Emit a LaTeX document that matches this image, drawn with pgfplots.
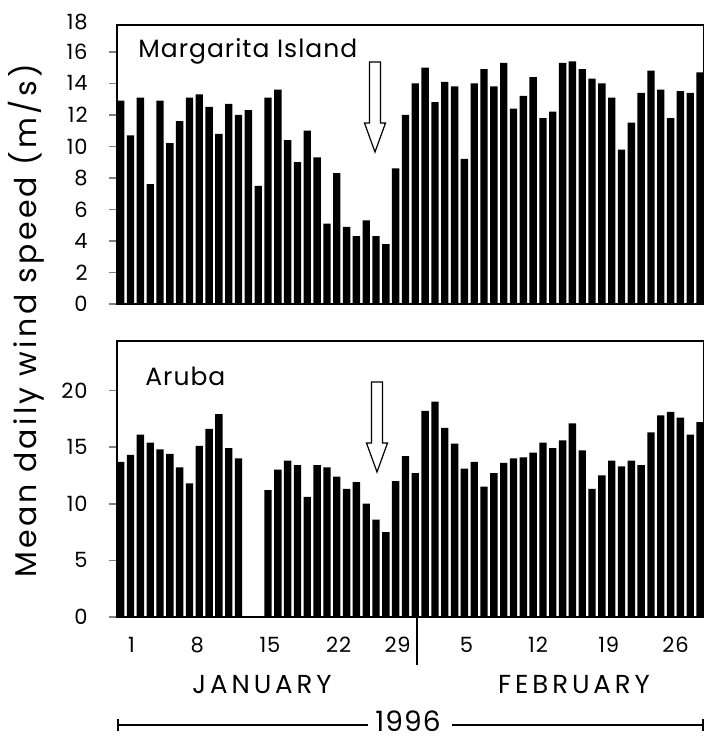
\documentclass[border=0pt]{standalone}
\usepackage{fontspec}
\setmainfont{Poppins}
\newfontfamily\spaced[LetterSpace=15]{Poppins}
\newfontfamily\ylab[LetterSpace=11]{Poppins}
\newfontfamily\slight[LetterSpace=4]{Poppins}
\usepackage{pgfplots}
\pgfplotsset{compat=1.18}
\usepackage{pgfplotstable}

\pgfplotstableread{
day ms
1 12.9
2 10.7
3 13.1
4 7.6
5 12.9
6 10.2
7 11.6
8 13.1
9 13.3
10 12.5
11 10.8
12 12.7
13 12.0
14 12.3
15 7.5
16 13.1
17 13.6
18 10.4
19 9.0
20 11.0
21 9.3
22 5.1
23 8.3
24 4.9
25 4.3
26 5.3
27 4.3
28 3.8
29 8.6
30 12.0
31 14.0
32 15.0
33 12.8
34 14.1
35 13.8
36 9.2
37 14.0
38 14.9
39 13.8
40 15.3
41 12.4
42 13.2
43 14.4
44 11.8
45 12.2
46 15.3
47 15.4
48 14.9
49 14.3
50 14.0
51 13.1
52 9.8
53 11.5
54 13.4
55 14.8
56 13.6
57 11.8
58 13.5
59 13.4
60 14.7
}\margarita

\pgfplotstableread{
day ms
1 13.7
2 14.3
3 16.1
4 15.4
5 14.8
6 14.4
7 13.2
8 11.8
9 15.1
10 16.6
11 17.9
12 14.9
13 14.0
16 11.2
17 13.0
18 13.8
19 13.4
20 10.6
21 13.4
22 13.2
23 12.4
24 11.3
25 11.9
26 10.0
27 8.6
28 7.5
29 12.0
30 14.2
31 12.7
32 18.2
33 19.0
34 16.7
35 15.3
36 13.1
37 13.7
38 11.5
39 12.7
40 13.6
41 14.0
42 14.1
43 14.5
44 15.4
45 14.9
46 15.6
47 17.1
48 14.7
49 11.3
50 12.5
51 13.8
52 13.3
53 13.8
54 13.4
55 16.3
56 17.8
57 18.1
58 17.6
59 16.1
60 17.2
}\aruba

\pgfplotsset{
  panel/.style={
    scale only axis, width=293.5pt,
    xmin=0.62, xmax=60.4, ymin=0,
    axis line style={line width=0.8pt},
    ytick pos=left, tick align=outside,
    major tick length=4pt,
    xtick style={draw=none},
    ytick style={line width=0.8pt},
    /pgf/number format/assume math mode=true,
    ticklabel style={font=\slight\fontsize{10.5}{11}\selectfont},
    yticklabel style={inner sep=0pt, anchor=east, xshift=-10.5pt},
    clip=false,
  },
  blackbar/.style={ybar, bar width=0.75, fill=black, draw=none},
}

\begin{document}
\begin{tikzpicture}[x=1pt,y=1pt]
\useasboundingbox (-58.5pt,-218.5pt) rectangle (293.5pt,152pt);
\begin{axis}[panel, at={(0pt,0pt)}, anchor=south west, height=139.5pt,
  ymax=17.7, ytick={0,2,...,16}, xtick=\empty]
  \addplot[blackbar] table[x=day,y=ms] {\margarita};
  \node[anchor=east, inner sep=0pt, font=\slight\fontsize{10.5}{11}\selectfont, xshift=-14.5pt] at (axis cs:0.62,17.92) {18};
\end{axis}
\begin{axis}[panel, at={(0pt,-156.5pt)}, anchor=south west, height=138pt,
  ymax=24.36, ytick={0,5,...,20},
  xtick={2.1,8.8,16.2,23.2,29.2,36.2,43.5,50.7,57.5},
  xticklabels={1,8,15,22,29,5,12,19,26},
  xticklabel style={anchor=north, inner sep=0pt, yshift=-6pt}]
  \addplot[blackbar] table[x=day,y=ms] {\aruba};
\end{axis}
% panel labels
\node[anchor=base west, inner sep=0pt, font=\slight\fontsize{12.5}{13}\selectfont] at (10.5pt,123.5pt) {Margarita Island};
\node[anchor=base west, inner sep=0pt, font=\slight\fontsize{12.5}{13}\selectfont] at (14pt,-40.5pt) {Aruba};
% arrows
\draw[line width=0.6pt, fill=white] (126.25pt,121pt) -- (131.75pt,121pt) -- (131.75pt,90.5pt) -- (134.25pt,90.5pt) -- (129pt,76pt) -- (123.75pt,90.5pt) -- (126.25pt,90.5pt) -- cycle;
\draw[line width=0.6pt, fill=white] (127.25pt,-39pt) -- (132.75pt,-39pt) -- (132.75pt,-69.5pt) -- (135.25pt,-69.5pt) -- (130pt,-84pt) -- (124.75pt,-69.5pt) -- (127.25pt,-69.5pt) -- cycle;
% y label
\node[rotate=90, anchor=base, inner sep=0pt, font=\ylab\fontsize{15}{16}\selectfont] at (-40pt,-8.5pt) {Mean daily wind speed (m/s)};
% month separator
\draw[line width=0.8pt] (150pt,-156.5pt) -- (150pt,-180.5pt);
% month labels
\node[inner sep=0pt, font=\spaced\fontsize{13}{14}\selectfont] at (72.5pt,-190.5pt) {JANUARY};
\node[inner sep=0pt, font=\spaced\fontsize{13}{14}\selectfont] at (228.5pt,-190.5pt) {FEBRUARY};
% year
\node[inner sep=0pt, font=\slight\fontsize{14}{15}\selectfont] at (145.5pt,-208.5pt) {1996};
\draw[line width=0.6pt] (0.5pt,-210.5pt) -- (125.5pt,-210.5pt);
\draw[line width=0.6pt] (167.5pt,-210.5pt) -- (293pt,-210.5pt);
\draw[line width=0.8pt] (0.5pt,-207.5pt) -- (0.5pt,-213.5pt);
\draw[line width=0.8pt] (293pt,-207.5pt) -- (293pt,-213.5pt);
\end{tikzpicture}
\end{document}
